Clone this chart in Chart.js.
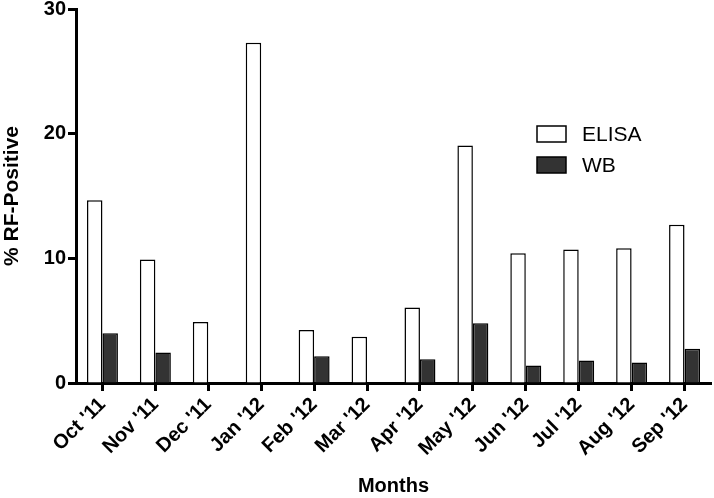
<!DOCTYPE html>
<html>
<head>
<meta charset="utf-8">
<script src="https://cdn.jsdelivr.net/npm/chart.js@4/dist/chart.umd.min.js"></script>
<style>
    html, body { margin: 0; padding: 0; background: #fff; }
    #wrap { width: 714px; height: 498px; }
</style>
</head>
<body>
<div id="wrap"><canvas id="myChart"></canvas></div>
<script>
const months = ["Oct '11", "Nov '11", "Dec '11", "Jan '12", "Feb '12", "Mar '12",
    "Apr '12", "May '12", "Jun '12", "Jul '12", "Aug '12", "Sep '12"];
const elisa = [14.65, 9.9, 4.9, 27.3, 4.25, 3.7, 6.05, 19.05, 10.4, 10.7, 10.8, 12.7];
const wb = [4.0, 2.45, 0, 0, 2.15, 0, 1.9, 4.8, 1.4, 1.8, 1.65, 2.75];
const yTicks = [0, 10, 20, 30];

const fontFamily = '"Liberation Sans", Arial, Helvetica, sans-serif';

//Legend drawn inside the plot, top right
const insideLegend = {
    id: 'insideLegend',
    afterDraw(chart) {
        const ctx = chart.ctx;
        ctx.save();
        ctx.font = '21px ' + fontFamily;
        ctx.textBaseline = 'middle';
        chart.data.datasets.forEach((ds, i) => {
            let y = 126 + i * 31;
            ctx.fillStyle = ds.backgroundColor;
            ctx.fillRect(537, y, 29, 16);
            ctx.lineWidth = 1.5;
            ctx.strokeStyle = '#000';
            ctx.strokeRect(537, y, 29, 16);
            ctx.fillStyle = '#000';
            ctx.fillText(ds.label, 582, y + 9);
        });
        ctx.restore();
    }
};

new Chart(document.getElementById('myChart'), {
    type: 'bar',
    data: {
        labels: months,
        datasets: [{
            label: 'ELISA',
            data: elisa,
            backgroundColor: '#ffffff',
            borderColor: '#000000',
            borderWidth: 1.5
        }, {
            label: 'WB',
            data: wb,
            backgroundColor: '#333333',
            borderColor: '#000000',
            borderWidth: 1.5
        }]
    },
    options: {
        responsive: true,
        maintainAspectRatio: false,
        animation: false,
        categoryPercentage: 0.585,
        barPercentage: 1,
        layout: { padding: { top: 9, right: 3, left: 0, bottom: 0 } },
        plugins: {
            legend: { display: false },
            tooltip: { enabled: false }
        },
        scales: {
            x: {
                afterFit: s => { s.height = 115; s.paddingLeft = 0; s.paddingRight = 0; },
                grid: { offset: false, drawOnChartArea: false, tickLength: 8, tickWidth: 3, color: '#000' },
                border: { color: '#000', width: 3 },
                ticks: {
                    minRotation: 45, maxRotation: 45, padding: 2,
                    color: '#000',
                    font: { family: fontFamily, size: 20, weight: 'bold' }
                },
                title: {
                    display: true, text: 'Months', color: '#000',
                    padding: { top: 0, bottom: 0 },
                    font: { family: fontFamily, size: 20, weight: 'bold' }
                }
            },
            y: {
                min: 0, max: 30,
                afterFit: s => { s.width = 76; s.paddingTop = 0; s.paddingBottom = 0; },
                afterBuildTicks: s => { s.ticks = yTicks.map(v => ({ value: v })); },
                grid: { drawOnChartArea: false, tickLength: 8, tickWidth: 3, color: '#000' },
                border: { color: '#000', width: 3 },
                ticks: {
                    padding: 2, color: '#000',
                    font: { family: fontFamily, size: 20, weight: 'bold' }
                },
                title: {
                    display: true, text: '% RF-Positive', color: '#000',
                    padding: { top: 0, bottom: 0 },
                    font: { family: fontFamily, size: 21, weight: 'bold' }
                }
            }
        }
    },
    plugins: [insideLegend]
});
</script>
</body>
</html>
